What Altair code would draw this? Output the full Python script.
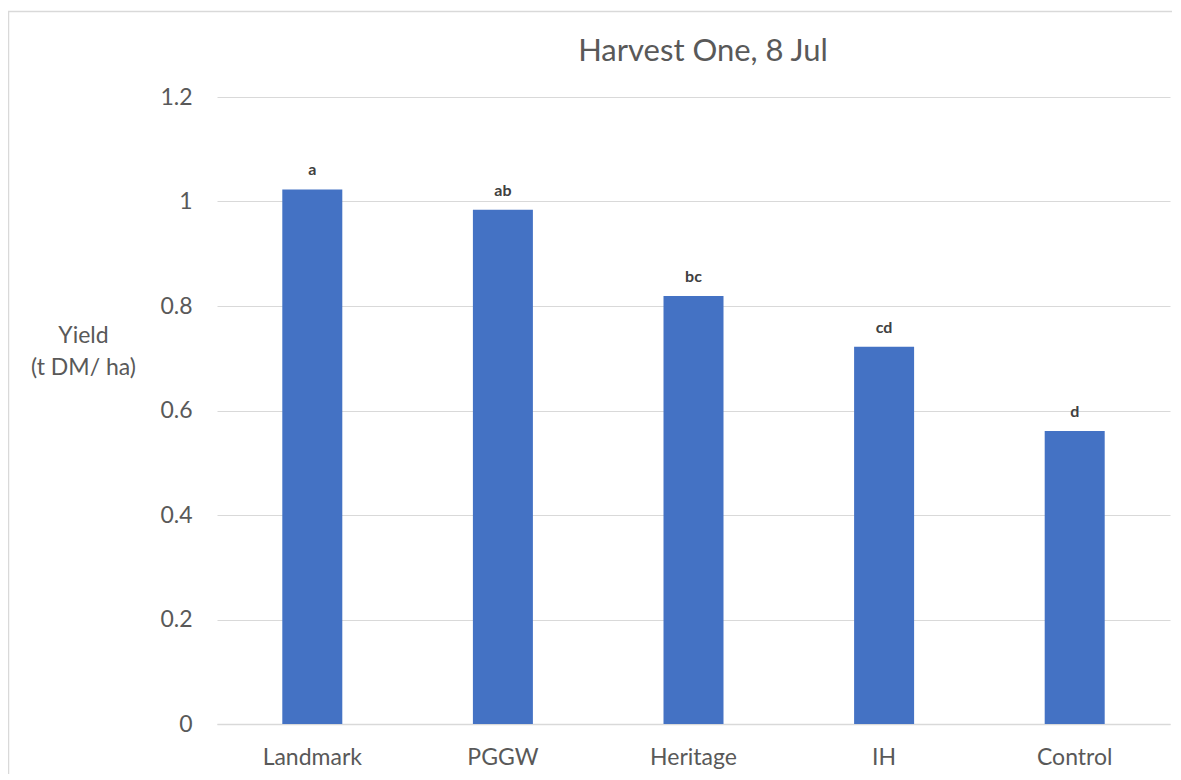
import altair as alt
import pandas as pd

categories = ["Landmark", "PGGW", "Heritage", "IH", "Control"]
yields = [1.023, 0.984, 0.819, 0.722, 0.561]
letters = ["a", "ab", "bc", "cd", "d"]
title_text = "Harvest One, 8 Jul"

df = pd.DataFrame({"cat": categories, "y": yields, "lab": letters})
one = pd.DataFrame({"t": [title_text]})

FONT = "Lato"
GRAY = "#595959"

base = alt.Chart(df)

bars = base.mark_bar(color="#4472C4", size=60).encode(
    x=alt.X("cat:N", sort=categories, title=None,
            scale=alt.Scale(paddingInner=0.685, paddingOuter=0.3425),
            axis=alt.Axis(labelAngle=0, labelFontSize=23, labelColor=GRAY, labelFont=FONT,
                          labelPadding=22, ticks=False, domain=True, domainColor="#d9d9d9",
                          domainWidth=1.5, grid=False)),
    y=alt.Y("y:Q", title=["Yield", "(t DM/ ha)"],
            scale=alt.Scale(domain=[0, 1.2]),
            axis=alt.Axis(values=[0, 0.2, 0.4, 0.6, 0.8, 1.0, 1.2],
                          labelExpr="datum.value == 0 ? '0' : (datum.value == 1 ? '1' : format(datum.value, '.1f'))",
                          labelFontSize=23, labelColor=GRAY, labelFont=FONT, labelPadding=25,
                          ticks=False, domain=False, gridColor="#d9d9d9", gridWidth=1.2,
                          titleAngle=0, titleAlign="center", titleBaseline="alphabetic",
                          titleX=-134, titleY=245, titleFontSize=23, titleFontWeight="normal",
                          titleColor=GRAY, titleFont=FONT, titleLineHeight=32)),
)

text = base.mark_text(baseline="bottom", dy=-11, fontSize=16, fontWeight="bold",
                      color="#404040", font=FONT).encode(
    x=alt.X("cat:N", sort=categories),
    y="y:Q",
    text="lab:N",
)

title = alt.Chart(one).mark_text(fontSize=31, font=FONT, color=GRAY, align="center",
                                 baseline="alphabetic").encode(
    x=alt.value(486), y=alt.value(-36), text="t:N")

# chart-area frame (decorative border like the spreadsheet chart box)
frame_top = alt.Chart(one).mark_rule(color="#d9d9d9", strokeWidth=1.5).encode(
    x=alt.value(-209), x2=alt.value(955), y=alt.value(-85.5))
frame_left = alt.Chart(one).mark_rule(color="#d9d9d9", strokeWidth=1.5).encode(
    x=alt.value(-208.5), y=alt.value(-86), y2=alt.value(677))

chart = (frame_top + frame_left + bars + text + title).properties(
    width=953, height=627,
    autosize=alt.AutoSizeParams(type="none"),
    padding={"left": 209, "top": 89, "right": 2, "bottom": 50},
).configure_view(stroke=None)

chart.save("out.html", embed_options={"renderer": "svg", "actions": False})
